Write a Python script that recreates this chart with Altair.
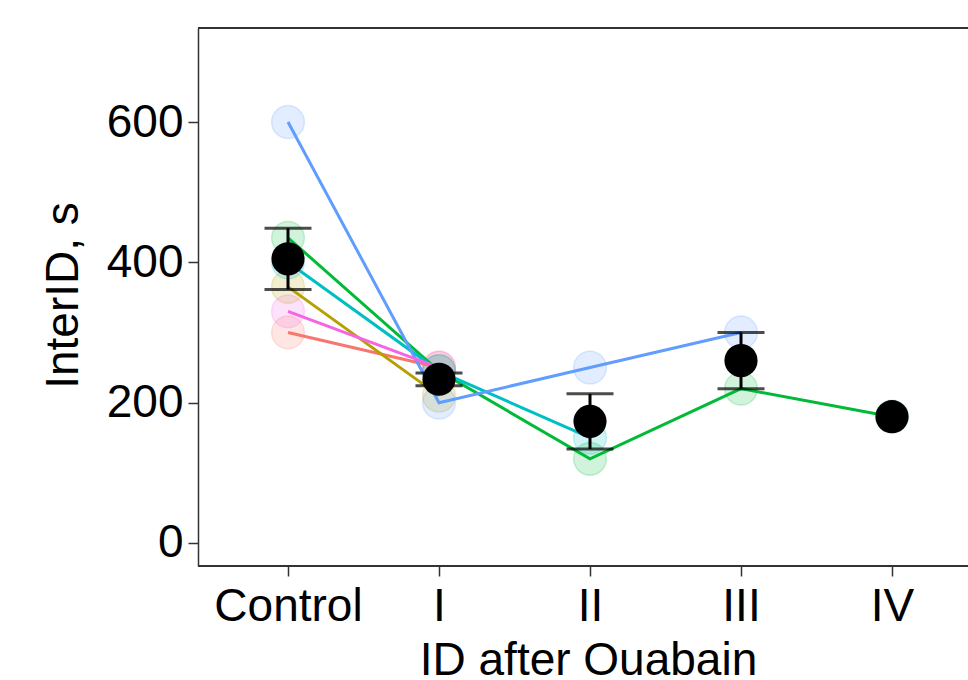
import altair as alt
import pandas as pd
import numpy as np

stages = ["Control", "I", "II", "III", "IV"]
subjects = ["S1", "S2", "S3", "S4", "S5", "S6"]
palette = ["#F8766D", "#B79F00", "#00BA38", "#00BFC4", "#619CFF", "#F564E3"]

s1_values = [300, 250]
s2_values = [365, 210]
s3_values = [435, 245, 120, 220, 180]
s4_values = [400, 245, 150]
s5_values = [600, 200, 250, 300]
s6_values = [330, 250]

series = [s1_values, s2_values, s3_values, s4_values, s5_values, s6_values]

rows = []
for subj, vals in zip(subjects, series):
    for i, v in enumerate(vals):
        rows.append({"subject": subj, "stage": stages[i], "idx": i, "value": v})
df = pd.DataFrame(rows)

g = df.groupby("stage")["value"]
summ = pd.DataFrame({"mean": g.mean(), "sd": g.std(), "n": g.count()}).reset_index()
summ["se"] = summ["sd"] / np.sqrt(summ["n"])
summ["lo"] = summ["mean"] - summ["se"]
summ["hi"] = summ["mean"] + summ["se"]
err = summ[summ["n"] > 1].copy()

FONT = "Liberation Sans"
W, H = 770, 538

xscale = alt.Scale(type="point", domain=stages, range=[90, 694], padding=0)
yscale = alt.Scale(domain=[-32.8, 734], nice=False, zero=False)
cscale = alt.Scale(domain=subjects, range=palette)

xaxis = alt.Axis(title="ID after Ouabain", labelAngle=0, domain=False, grid=False,
                 tickSize=10, tickWidth=1.5, tickColor="#333333",
                 labelFont=FONT, labelFontSize=46, labelColor="black",
                 labelBaseline="alphabetic", labelPadding=44,
                 titleFont=FONT, titleFontSize=46, titleFontWeight="normal", titleColor="black",
                 titleX=390, titleY=108, titleBaseline="alphabetic", titleAlign="center")
yaxis = alt.Axis(title="InterID, s", values=[0, 200, 400, 600], grid=False,
                 domainColor="#333333", domainWidth=1.5,
                 tickSize=10, tickWidth=1.5, tickColor="#333333",
                 labelFont=FONT, labelFontSize=46, labelColor="black", labelPadding=5,
                 titleFont=FONT, titleFontSize=46, titleFontWeight="normal", titleColor="black",
                 titleAngle=-90, titleX=-121, titleY=267, titleBaseline="alphabetic", titleAlign="center")

X = alt.X("stage:N", scale=xscale, axis=xaxis, sort=stages)
Y = alt.Y("value:Q", scale=yscale, axis=yaxis)

pts = alt.Chart(df).mark_circle(size=1075, fillOpacity=0.18, strokeOpacity=0.2, strokeWidth=1.5).encode(
    x=X, y=Y,
    color=alt.Color("subject:N", scale=cscale, legend=None),
    stroke=alt.Stroke("subject:N", scale=cscale, legend=None),
)

lines = alt.Chart(df).mark_line(strokeWidth=3).encode(
    x=X, y=Y,
    color=alt.Color("subject:N", scale=cscale, legend=None),
    detail="subject:N",
    order=alt.Order("idx:Q"),
)

Xs = alt.X("stage:N", scale=xscale, sort=stages)
bars = alt.Chart(err).mark_rule(color="black", strokeWidth=3).encode(
    x=Xs, y=alt.Y("lo:Q", scale=yscale), y2="hi:Q")
cap_lo = alt.Chart(err).mark_tick(color="black", size=47, thickness=3).encode(
    x=Xs, y=alt.Y("lo:Q", scale=yscale))
cap_hi = alt.Chart(err).mark_tick(color="black", size=47, thickness=3).encode(
    x=Xs, y=alt.Y("hi:Q", scale=yscale))

means = alt.Chart(summ).mark_circle(size=1100, color="black", opacity=1).encode(
    x=Xs, y=alt.Y("mean:Q", scale=yscale))

top_border = alt.Chart(summ).mark_rule(color="#333333", strokeWidth=1.5).encode(
    x=alt.value(0), x2=alt.value(W), y=alt.value(0))
bottom_border = alt.Chart(summ).mark_rule(color="#333333", strokeWidth=1.5).encode(
    x=alt.value(0), x2=alt.value(W), y=alt.value(H))

chart = alt.layer(pts, lines, bars, cap_lo, cap_hi, means, top_border, bottom_border).properties(
    width=W, height=H,
    autosize=alt.AutoSizeParams(type="none"),
    padding={"left": 198, "top": 28, "right": 0, "bottom": 114},
    background="white",
).configure_view(stroke=None)

chart.save("out.html", embed_options={"renderer": "svg", "actions": False})
